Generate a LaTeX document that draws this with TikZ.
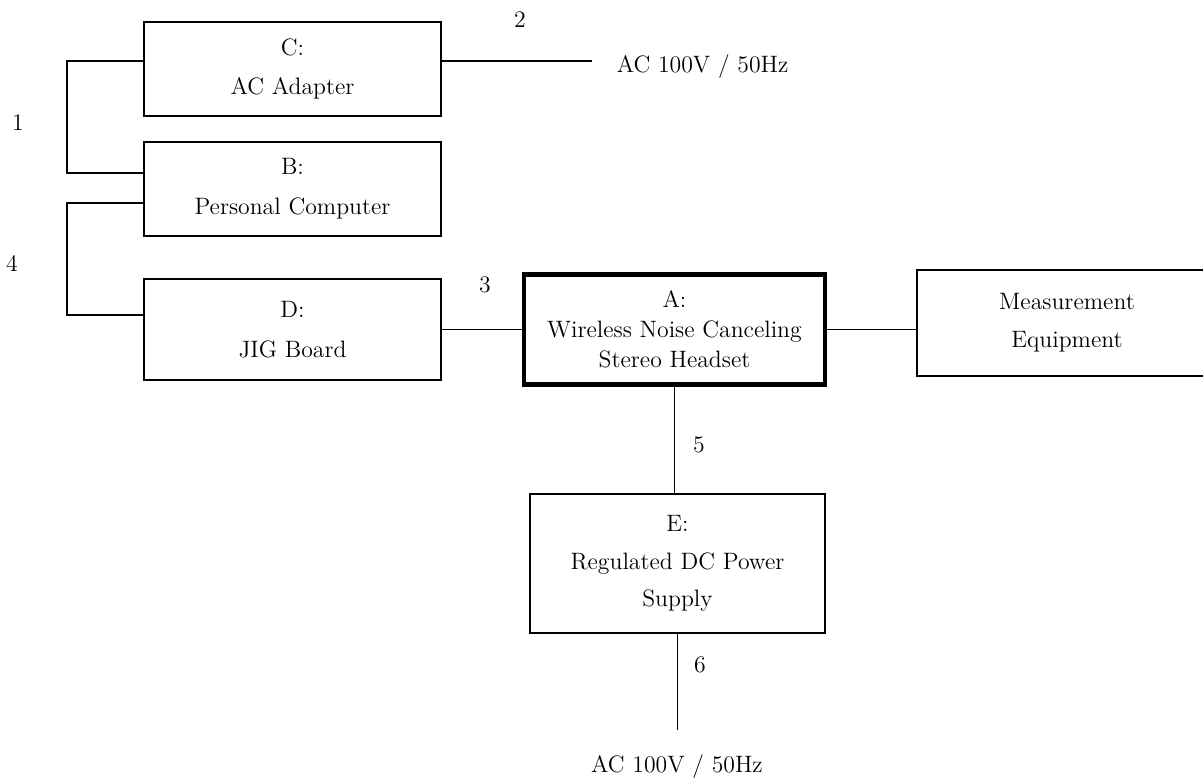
\documentclass[tikz,border=0pt]{standalone}
\usepackage{tikz}
\usetikzlibrary{calc}

\begin{document}
\begin{tikzpicture}[x=0.02cm,y=-0.02cm,line width=1.1pt,
  bloc/.style={draw,line width=1.1pt,align=center,inner sep=0pt,
    font=\fontsize{13.5}{22.7}\selectfont},
  lbl/.style={font=\fontsize{13.5}{15}\selectfont}]
\useasboundingbox (0,0) rectangle (1203,778);
\clip (0,0) rectangle (1203,778);
% boxes
\node [bloc,minimum width=5.94cm,minimum height=1.88cm] (C) at (292.5,69) {C:\\AC Adapter};
\node [bloc,minimum width=5.94cm,minimum height=1.88cm] (B) at (292.5,189) {B:\\Personal Computer};
\node [bloc,minimum width=5.94cm,minimum height=2.02cm] (D) at (292.5,329.5) {D:\\JIG Board};
\node [bloc,line width=2.3pt,minimum width=6.02cm,minimum height=2.2cm,
  font=\fontsize{13.5}{17}\selectfont] (A) at (674.5,329.5) {A:\\Wireless Noise Canceling\\Stereo Headset};
\node [bloc,minimum width=6cm,minimum height=2.12cm,
  font=\fontsize{13.5}{21.5}\selectfont] (M) at (1067,323) {Measurement\\Equipment};
\node [bloc,minimum width=5.9cm,minimum height=2.78cm,
  font=\fontsize{13.5}{21.5}\selectfont] (E) at (677.5,563.5) {E:\\Regulated DC Power\\Supply};
% cables
\coordinate (k1) at (67,61);
\coordinate (k4) at (67,203);
\coordinate (acC) at (592,61);
\coordinate (acE) at (677,730);
\draw (C.west |- k1) -- (k1) |- ($(B.west)+(0,-16)$);
\draw (B.west |- k4) -- (k4) |- ($(D.west)+(0,-14.5)$);
\draw (C.east |- acC) -- (acC);
\draw (D.east) -- (A.west);
\draw (A.east) -- (A.east -| M.west);
\draw (A.south) -- (A.south |- E.north);
\draw (E.south) -- (E.south |- acE);
% labels
\node [lbl] (n1) at (18,123) {1};
\node [lbl] (n2) at (520,20) {2};
\node [lbl] (n3) at (485,285) {3};
\node [lbl] (n4) at (12,263) {4};
\node [lbl] (n5) at (699,445) {5};
\node [lbl] (n6) at (700,665) {6};
\node [lbl,anchor=west] (ac1) at (610,67) {AC 100V / 50Hz};
\node [lbl] (ac2) at (677,767) {AC 100V / 50Hz};
\end{tikzpicture}
\end{document}
